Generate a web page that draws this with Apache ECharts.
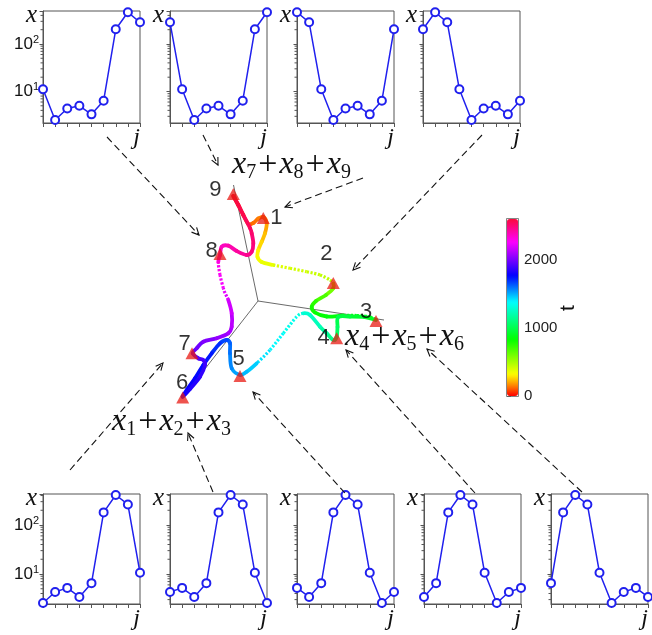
<!DOCTYPE html>
<html><head><meta charset="utf-8">
<script src="https://cdn.jsdelivr.net/npm/echarts@6/dist/echarts.min.js"></script>
<style>html,body{margin:0;padding:0;background:#fff}#c{width:652px;height:635px}</style>
</head><body><div id="c"></div>
<script>
// ---------------- data ----------------
const jValues = [1, 2, 3, 4, 5, 6, 7, 8, 9];
const topPanel1 = [11.1, 2.5, 4.4, 5.0, 3.3, 6.4, 204, 465, 286];
const topPanel2 = [286, 11.1, 2.5, 4.4, 5.0, 3.3, 6.4, 204, 465];
const topPanel3 = [465, 286, 11.1, 2.5, 4.4, 5.0, 3.3, 6.4, 204];
const topPanel4 = [204, 465, 286, 11.1, 2.5, 4.4, 5.0, 3.3, 6.4];
const bottomPanel1 = [2.56, 4.3, 5.2, 3.4, 6.5, 181, 410, 263, 10.6];
const bottomPanel2 = [4.3, 5.2, 3.4, 6.5, 181, 410, 263, 10.6, 2.56];
const bottomPanel3 = [5.2, 3.4, 6.5, 181, 410, 263, 10.6, 2.56, 4.3];
const bottomPanel4 = [3.4, 6.5, 181, 410, 263, 10.6, 2.56, 4.3, 5.2];
const bottomPanel5 = [6.5, 181, 410, 263, 10.6, 2.56, 4.3, 5.2, 3.4];
const decadeTicks = [10, 100];
const minorTickValues = [3, 4, 5, 6, 7, 8, 9, 20, 30, 40, 50, 60, 70, 80, 90, 200, 300, 400];

// projected trajectory (plane units, origin at the projection centre) and time t
const trajT = [0,30,60,100,120,140,155,180,215,250,285,320,350,375,400,420,440,460,480,560,640,720,770,810,840,860,875,885,900,920,950,980,1020,1060,1100,1150,1200,1260,1290,1320,1360,1400,1440,1470,1500,1540,1580,1610,1640,1680,1720,1750,1770,1790,1800,1820,1850,1880,1900,1920,1940,1970,2000,2040,2080,2110,2150,2190,2210,2230,2270,2300,2330,2360,2390,2420,2450,2470,2490,2510,2530,2560,2580,2600];
const trajX = [-24.7,-19.7,-14.7,-9.7,-4.7,0.3,5.3,8.7,7,3.7,0.3,-0.5,3.7,15.3,32,48.7,62,72,75.3,75.3,68,58,53.7,57,68.7,85.3,98.7,112,118,107,92,80.3,79.5,78.7,75.3,68.7,62,52,45.3,38.7,25.3,12,-1.3,-11.3,-18,-26.3,-28,-28,-31.3,-38,-46.3,-54.7,-63,-71.3,-75.3,-68,-58,-53,-54.7,-59.7,-65.3,-61.3,-54.7,-41.3,-29.7,-26.3,-26.3,-29.7,-33,-34.7,-38,-39.7,-38,-36.3,-29.7,-21.3,-11.3,-6.3,-4.7,-6.3,-8,-14.7,-19.7,-24.7];
const trajY = [105,96,86,77,78,82.5,84,77.7,67.7,59.3,51,44,39,36,32.7,29.3,26,21,17.5,12.7,6,0,-6,-11.5,-15.5,-14.5,-14.5,-16,-19,-16,-15.5,-16,-26,-36,-39,-32.3,-25.7,-14,-12.3,-15.7,-32.3,-49,-62.3,-70.7,-74,-67.3,-52.3,-42.3,-39,-42.3,-52.3,-64,-77.3,-89,-95.7,-88,-75.7,-64,-59,-57.3,-52.3,-47.3,-40.7,-37.3,-32.3,-25.7,-12.3,1,8,13,26,39,46,54.3,55.3,50,46,49.3,57.7,67.7,73,86,96,105];

// saddle states (triangles)
const stateLabels = ['1','2','3','4','5','6','7','8','9'];
const stateX = [5.3, 75.3, 118, 78.7, -18, -75.3, -66, -38, -24.7];
const stateY = [83, 18, -20, -37.3, -75, -96.5, -52.3, 47, 107];

// projected coordinate axes ends
const projAxisEnds = [[-24.5, 116], [126, -19], [-75, -96]];

const colorbarTicks = [0, 1000, 2000];
const tMax = 2600;

// ---------------- layout / style ----------------
const panelSeries = [topPanel1, topPanel2, topPanel3, topPanel4, bottomPanel1, bottomPanel2, bottomPanel3, bottomPanel4, bottomPanel5];
const panelLeft = [43, 170, 297, 423, 43, 170, 297, 424, 551];
const panelRow = [0, 0, 0, 0, 1, 1, 1, 1, 1];
const panelShowDecades = [true, false, false, false, true, false, false, false, false];
const rowTop = [11, 494], rowHeight = [112, 110];
const rowMin = [2.17, 2.44], rowMax = [495, 430];
const labelOffsets = [[13, 0], [-7, -29], [-10, -9], [-13, 0], [-1.5, -17], [-0.5, -14.5], [-7.5, -9], [-8.5, -3], [-18, -4]];
const sparseTimeRanges = [[385, 470], [855, 895], [1290, 1450], [2195, 2305]]; // drawn dotted (fast transit)
const BLUE = '#2020ee';
const AX = '#555';

// hsv-like colormap
const cmapStops = [[0, [255, 0, 0]], [0.057, [255, 128, 0]], [0.123, [255, 255, 0]], [0.32, [0, 255, 0]], [0.53, [0, 255, 255]], [0.68, [0, 0, 255]], [0.87, [255, 0, 255]], [1, [250, 10, 60]]];
function cmapAt(f) {
  for (let k = 0; k < cmapStops.length - 1; k++) {
    const [f0, c0] = cmapStops[k], [f1, c1] = cmapStops[k + 1];
    if (f <= f1) {
      const u = (f - f0) / (f1 - f0);
      return 'rgb(' + c0.map((v, m) => Math.round(v + (c1[m] - v) * u)).join(',') + ')';
    }
  }
  return 'rgb(250,10,60)';
}
const cmap = [];
for (let k = 0; k <= 60; k++) cmap.push(cmapAt(k / 60));

const grids = [], xAxes = [], yAxes = [], series = [];

panelSeries.forEach((vals, i) => {
  const r = panelRow[i];
  grids.push({ left: panelLeft[i], top: rowTop[r], width: 97, height: rowHeight[r], show: true, borderColor: AX, borderWidth: 1, backgroundColor: 'transparent' });
  xAxes.push({
    gridIndex: i, type: 'value', min: 1, max: 9, interval: 1,
    axisLine: { show: true, lineStyle: { color: AX, width: 1 } },
    axisTick: { show: true, length: 4, lineStyle: { color: AX } },
    splitLine: { show: false },
    axisLabel: {
      show: true, margin: 3,
      formatter: v => (v === 9 ? '{j|j}' : ''),
      rich: { j: { fontFamily: 'Liberation Serif', fontStyle: 'italic', fontSize: 24, color: '#111', padding: [0, 7, 0, 0] } }
    }
  });
  const mx = rowMax[r], showDec = panelShowDecades[i];
  yAxes.push({
    gridIndex: i, type: 'log', logBase: 10, min: rowMin[r], max: mx,
    axisLine: { show: true, lineStyle: { color: AX, width: 1 } },
    axisTick: { show: true, length: 3.5, lineStyle: { color: AX } },
    splitLine: { show: false },
    axisLabel: {
      showMinLabel: false, showMaxLabel: true, margin: 4,
      formatter: v => {
        if (v >= mx * 0.98) return '{x|x}';
        if (!showDec) return '';
        const lg = Math.log10(v), e = Math.round(lg);
        if (Math.abs(lg - e) < 0.01 && decadeTicks.includes(Math.pow(10, e))) return '{n|10}{e|' + e + '}';
        return '';
      },
      rich: {
        x: { fontFamily: 'Liberation Serif', fontStyle: 'italic', fontSize: 25, color: '#111', padding: [8, 2, 0, 0] },
        n: { fontFamily: 'Liberation Sans', fontSize: 17, color: '#111', lineHeight: 20 },
        e: { fontFamily: 'Liberation Sans', fontSize: 11, color: '#111', verticalAlign: 'top', lineHeight: 12 }
      }
    }
  });
  series.push({
    type: 'custom', xAxisIndex: i, yAxisIndex: i, silent: true, clip: false, z: 3,
    data: minorTickValues.filter(v => v > rowMin[r] && v < mx).map(v => [1, v]),
    renderItem: (params, api) => {
      const p = api.coord([api.value(0), api.value(1)]);
      return { type: 'line', shape: { x1: p[0] - 2.5, y1: p[1], x2: p[0], y2: p[1] }, style: { stroke: AX, lineWidth: 1 } };
    }
  });
  series.push({
    type: 'line', xAxisIndex: i, yAxisIndex: i, silent: true, z: 4,
    data: jValues.map((j, k) => [j, vals[k]]),
    symbol: 'emptyCircle', symbolSize: 8,
    lineStyle: { color: BLUE, width: 1.5 },
    itemStyle: { color: BLUE, borderColor: BLUE, borderWidth: 1.3 }
  });
});

// central projection grid (index 9): 1 unit = 1 px
grids.push({ left: 150, top: 170, width: 270, height: 250, show: false });
xAxes.push({ gridIndex: 9, type: 'value', min: -108, max: 162, show: false });
yAxes.push({ gridIndex: 9, type: 'value', min: -119, max: 131, show: false });

// colour bar axis grid (index 10)
grids.push({ left: 507, top: 219, width: 11, height: 177, show: false });
xAxes.push({ gridIndex: 10, type: 'value', show: false });
yAxes.push({
  gridIndex: 10, type: 'value', position: 'right', min: 0, max: tMax,
  axisLine: { show: false },
  axisTick: { show: true, customValues: colorbarTicks, length: 4, lineStyle: { color: '#444' } },
  axisLabel: { customValues: colorbarTicks, formatter: v => String(v), fontSize: 15, margin: 6, color: '#222', fontFamily: 'Liberation Sans' },
  splitLine: { show: false }
});

series.push({
  type: 'lines', coordinateSystem: 'cartesian2d', xAxisIndex: 9, yAxisIndex: 9, silent: true, z: 5,
  data: projAxisEnds.map(e => ({ coords: [[0, 0], e] })),
  lineStyle: { color: '#444', width: 0.8, opacity: 1 }
});

const trajSegments = [];
for (let k = 0; k < trajT.length - 1; k++) {
  trajSegments.push([trajX[k], trajY[k], trajX[k + 1], trajY[k + 1], (trajT[k] + trajT[k + 1]) / 2]);
}
const trajIndex = series.length;
const cl = k => Math.max(0, Math.min(trajX.length - 1, k));
const isSparse = t => sparseTimeRanges.some(([a, b]) => t >= a && t <= b);
series.push({
  type: 'custom', xAxisIndex: 9, yAxisIndex: 9, silent: true, clip: false, z: 6,
  data: trajSegments,
  encode: { x: [0, 2], y: [1, 3] },
  renderItem: (params, api) => {
    const i = params.dataIndex;
    const P = k => api.coord([trajX[cl(k)], trajY[cl(k)]]);
    const p0 = P(i - 1), p1 = P(i), p2 = P(i + 1), p3 = P(i + 2);
    const c1 = [p1[0] + (p2[0] - p0[0]) / 6, p1[1] + (p2[1] - p0[1]) / 6];
    const c2 = [p2[0] - (p3[0] - p1[0]) / 6, p2[1] - (p3[1] - p1[1]) / 6];
    const sparse = isSparse(api.value(4));
    return {
      type: 'bezierCurve',
      shape: { x1: p1[0], y1: p1[1], x2: p2[0], y2: p2[1], cpx1: c1[0], cpy1: c1[1], cpx2: c2[0], cpy2: c2[1] },
      style: sparse
        ? { stroke: api.visual('color'), lineWidth: 3.2, lineCap: 'butt', lineDash: [2.2, 1.6], fill: null }
        : { stroke: api.visual('color'), lineWidth: 3.8, lineCap: 'round', fill: null }
    };
  }
});

series.push({
  type: 'scatter', xAxisIndex: 9, yAxisIndex: 9, silent: true, z: 7,
  symbol: 'triangle', symbolSize: [13, 12],
  itemStyle: { color: 'rgba(232,24,18,0.93)' },
  data: stateX.map((x, k) => ({
    value: [x, stateY[k]],
    label: { show: true, position: 'inside', offset: labelOffsets[k], formatter: stateLabels[k], fontSize: 22, fontFamily: 'Liberation Sans', color: '#000', textBorderWidth: 0 }
  }))
});

// ---------------- annotations ----------------
const arrowSegs = [[107,137,199,235],[203,135,218,165],[363,178,285,207],[482,135,353,270],[70,470,163,363],[213,492,188,433],[345,493,253,392],[475,493,346,350],[582,492,427,349]];
const graphics = [];
arrowSegs.forEach(([x1, y1, x2, y2]) => {
  const ang = Math.atan2(y2 - y1, x2 - x1), L = 8, A = 0.45;
  const q1 = [x2 - L * Math.cos(ang - A), y2 - L * Math.sin(ang - A)];
  const q2 = [x2 - L * Math.cos(ang + A), y2 - L * Math.sin(ang + A)];
  graphics.push({ type: 'line', silent: true, z: 20, shape: { x1, y1, x2, y2 }, style: { stroke: '#111', lineWidth: 1.1, lineDash: [7, 4] } });
  graphics.push({ type: 'polyline', silent: true, z: 20, shape: { points: [q1, [x2, y2], q2] }, style: { stroke: '#111', lineWidth: 1.1, fill: null } });
});
const sumRich = {
  x: { fontFamily: 'Liberation Serif', fontStyle: 'italic', fontSize: 32, lineHeight: 36, fill: '#111' },
  s: { fontFamily: 'Liberation Serif', fontSize: 20, lineHeight: 22, verticalAlign: 'bottom', fill: '#111' },
  p: { fontFamily: 'Liberation Serif', fontSize: 34, lineHeight: 36, fill: '#111', padding: [0, 2] }
};
const sumText = (a, b, c) => `{x|x}{s|${a}}{p|+}{x|x}{s|${b}}{p|+}{x|x}{s|${c}}`;
graphics.push({ type: 'text', x: 232, y: 147, z: 20, silent: true, style: { text: sumText(7, 8, 9), rich: sumRich } });
graphics.push({ type: 'text', x: 345, y: 319, z: 20, silent: true, style: { text: sumText(4, 5, 6), rich: sumRich } });
graphics.push({ type: 'text', x: 112, y: 404, z: 20, silent: true, style: { text: sumText(1, 2, 3), rich: sumRich } });
graphics.push({ type: 'rect', z: 20, silent: true, shape: { x: 506.5, y: 218.5, width: 12, height: 178 }, style: { stroke: '#666', lineWidth: 0.8, fill: null } });
graphics.push({ type: 'text', x: 568, y: 308, rotation: Math.PI / 2, z: 20, silent: true,
  style: { text: 't', fontFamily: 'Liberation Sans', fontSize: 21, fill: '#111', align: 'center', verticalAlign: 'middle' } });

const chart = echarts.init(document.getElementById('c'), null, { renderer: 'canvas' });
chart.setOption({
  animation: false,
  backgroundColor: '#fff',
  grid: grids, xAxis: xAxes, yAxis: yAxes,
  visualMap: [{
    type: 'continuous', min: 0, max: tMax, dimension: 4, seriesIndex: [trajIndex],
    calculable: false, show: true, orient: 'vertical', left: 507, top: 219,
    itemWidth: 11, itemHeight: 177, padding: 0, hoverLink: false,
    inRange: { color: cmap }
  }],
  graphic: graphics,
  series: series
});
</script></body></html>
